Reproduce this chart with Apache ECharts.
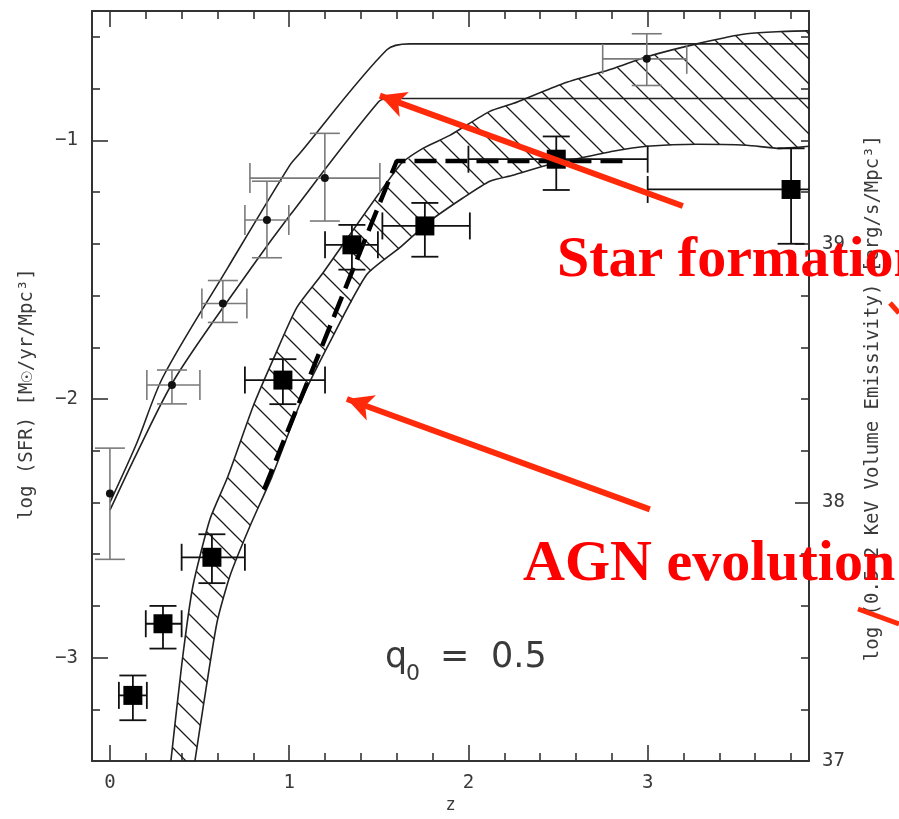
<!DOCTYPE html>
<html>
<head>
<meta charset="utf-8">
<script src="https://cdn.jsdelivr.net/npm/echarts@6/dist/echarts.min.js"></script>
<style>
  html, body { margin: 0; padding: 0; background: #fff; }
  #chart { width: 899px; height: 819px; }
</style>
</head>
<body>
<div id="chart"></div>
<script>
// ---- star-formation history models: [z, log SFR] ----
const sfUpper = [[0, -2.40], [0.15, -2.17], [0.296, -1.915], [0.658, -1.492], [1.004, -1.096],
  [1.06, -1.05], [1.545, -0.65], [1.673, -0.627], [3.9, -0.627]];
const sfLower = [[0, -2.43], [0.15, -2.21], [0.368, -1.915], [0.79, -1.492], [1.004, -1.29],
  [1.50, -0.85], [1.56, -0.838], [3.9, -0.838]];

// ---- AGN emissivity evolution band: edges of the allowed region ----
const agnBandUpper = [[0.34, -3.40], [0.402, -3.019], [0.463, -2.723], [0.558, -2.465], [0.658, -2.30],
  [0.798, -2.03], [0.909, -1.85], [1.043, -1.646], [1.182, -1.519], [1.617, -1.096], [1.746, -1.031],
  [1.896, -0.981], [2.119, -0.888], [2.248, -0.858], [2.526, -0.781], [2.805, -0.723], [2.995, -0.677],
  [3.274, -0.627], [3.553, -0.588], [3.887, -0.577], [3.9, -0.577]];
const agnBandLower = [[0.474, -3.40], [0.519, -3.196], [0.597, -2.865], [0.669, -2.685], [0.781, -2.492],
  [0.904, -2.30], [1.071, -2.0], [1.227, -1.78], [1.433, -1.519], [1.617, -1.415], [1.785, -1.312],
  [1.969, -1.223], [2.119, -1.158], [2.248, -1.135], [2.437, -1.096], [2.621, -1.069], [2.805, -1.042],
  [2.995, -1.023], [3.274, -1.015], [3.553, -1.019], [3.737, -1.031], [3.9, -1.023]];

// ---- AGN evolution (pure luminosity evolution, dashed) ----
const agnDashed = [[0.86, -2.35], [1.60, -1.08], [2.87, -1.08]];

// ---- measurements: [z, value, zLow, zHigh, valueLow, valueHigh] ----
const sfrPoints = [
  [0, -2.365, 0, 0, -2.62, -2.19],
  [0.346, -1.946, 0.206, 0.502, -2.019, -1.888],
  [0.63, -1.631, 0.513, 0.764, -1.704, -1.542],
  [0.876, -1.308, 0.753, 0.998, -1.454, -1.158],
  [1.199, -1.146, 0.781, 1.506, -1.312, -0.973],
  [2.995, -0.685, 2.749, 3.218, -0.788, -0.588]
];
const agnPoints = [
  [0.128, -3.146, 0.05, 0.206, -3.242, -3.069],
  [0.296, -2.869, 0.2, 0.4, -2.965, -2.80],
  [0.569, -2.612, 0.40, 0.753, -2.712, -2.523],
  [0.965, -1.927, 0.753, 1.2, -2.02, -1.846],
  [1.35, -1.404, 1.2, 1.495, -1.50, -1.327],
  [1.757, -1.331, 1.52, 2.008, -1.45, -1.242],
  [2.49, -1.073, 2.0, 3.0, -1.192, -0.985],
  [3.80, -1.19, 3.0, 4.5, -1.40, -1.031]
];

// ---- tick positions ----
const zMajor = [0, 1, 2, 3];
const zMinor = [0.2, 0.4, 0.6, 0.8, 1.2, 1.4, 1.6, 1.8, 2.2, 2.4, 2.6, 2.8, 3.2, 3.4, 3.6, 3.8];
const sfrMajor = [-3, -2, -1];
const sfrMinor = [-3.2, -2.8, -2.6, -2.4, -2.2, -1.8, -1.6, -1.4, -1.2, -0.8, -0.6];
const emisMajor = [37, 38, 39];
const emisMinor = [37.2, 37.4, 37.6, 37.8, 38.2, 38.4, 38.6, 38.8, 39.2, 39.4, 39.6, 39.8];

const INK = '#222';
const LABEL = '#3a3a3a';
const MONO = '"DejaVu Sans Mono", monospace';

// diagonal hatching for the AGN band
const hatch = document.createElement('canvas');
hatch.width = 25; hatch.height = 25;
(function () {
  const g = hatch.getContext('2d');
  g.strokeStyle = '#1a1a1a';
  g.lineWidth = 1.3;
  g.beginPath();
  g.moveTo(-3, -3); g.lineTo(28, 28);
  g.moveTo(-3, 22); g.lineTo(3, 28);
  g.moveTo(22, -3); g.lineTo(28, 3);
  g.stroke();
})();

function errorBars(cap, color, width) {
  return function (params, api) {
    const z = api.value(0), v = api.value(1);
    const zlo = api.value(2), zhi = api.value(3), vlo = api.value(4), vhi = api.value(5);
    const c = api.coord([z, v]);
    const l = api.coord([zlo, v]), r = api.coord([zhi, v]);
    const b = api.coord([z, vlo]), t = api.coord([z, vhi]);
    const h = cap / 2;
    const st = () => ({ stroke: color, lineWidth: width, fill: null });
    const kids = [];
    if (zhi > zlo) {
      kids.push({ type: 'line', shape: { x1: l[0], y1: c[1], x2: r[0], y2: c[1] }, style: st() });
      kids.push({ type: 'line', shape: { x1: l[0], y1: c[1] - h, x2: l[0], y2: c[1] + h }, style: st() });
      kids.push({ type: 'line', shape: { x1: r[0], y1: c[1] - h, x2: r[0], y2: c[1] + h }, style: st() });
    }
    kids.push({ type: 'line', shape: { x1: c[0], y1: b[1], x2: c[0], y2: t[1] }, style: st() });
    kids.push({ type: 'line', shape: { x1: c[0] - h, y1: b[1], x2: c[0] + h, y2: b[1] }, style: st() });
    kids.push({ type: 'line', shape: { x1: c[0] - h, y1: t[1], x2: c[0] + h, y2: t[1] }, style: st() });
    return { type: 'group', children: kids };
  };
}

const minusFmt = v => String(v).replace('-', '\u2212');
const frameLine = { show: true, onZero: false, lineStyle: { color: '#333', width: 2 } };
const noLine = { show: false, onZero: false };

function zAxis(position, major) {
  return {
    type: 'value', min: -0.1, max: 3.9, position,
    axisLine: major ? frameLine : noLine,
    axisTick: { show: true, inside: true, length: major ? 16 : 8,
      customValues: major ? zMajor : zMinor, lineStyle: { color: '#333', width: 1.6 } },
    axisLabel: (major && position === 'bottom')
      ? { show: true, customValues: zMajor, margin: 12, color: LABEL, fontFamily: MONO, fontSize: 19 }
      : { show: false },
    splitLine: { show: false },
    name: (major && position === 'bottom') ? 'z' : '',
    nameLocation: 'middle', nameGap: 34,
    nameTextStyle: { color: LABEL, fontFamily: MONO, fontSize: 17 }
  };
}

function sfrAxis(major) {
  return {
    type: 'value', min: -3.4, max: -0.5, position: 'left',
    axisLine: major ? frameLine : noLine,
    axisTick: { show: true, inside: true, length: major ? 16 : 8,
      customValues: major ? sfrMajor : sfrMinor, lineStyle: { color: '#333', width: 1.6 } },
    axisLabel: major
      ? { show: true, customValues: sfrMajor, margin: 14, color: LABEL, fontFamily: MONO, fontSize: 19, formatter: minusFmt }
      : { show: false },
    splitLine: { show: false },
    name: major ? 'log (SFR) [M\u2609/yr/Mpc\u00B3]' : '',
    nameLocation: 'middle', nameRotate: 90, nameGap: 55,
    nameTextStyle: { color: LABEL, fontFamily: MONO, fontSize: 19, padding: [0, 16, 0, 0] }
  };
}

function emisAxis(major) {
  return {
    type: 'value', min: 37, max: 39.9, position: 'right',
    axisLine: major ? frameLine : noLine,
    axisTick: { show: true, inside: true, length: major ? 14 : 8,
      customValues: major ? emisMajor : emisMinor, lineStyle: { color: '#333', width: 1.6 } },
    axisLabel: major
      ? { show: true, customValues: emisMajor, margin: 13, color: LABEL, fontFamily: MONO, fontSize: 19 }
      : { show: false },
    splitLine: { show: false },
    name: major ? 'log (0.5-2 KeV Volume Emissivity) [erg/s/Mpc\u00B3]' : '',
    nameLocation: 'middle', nameRotate: 90, nameGap: 55,
    nameTextStyle: { color: LABEL, fontFamily: MONO, fontSize: 19, padding: [0, 24, 0, 0] }
  };
}

const curveStyle = { color: INK, width: 1.6 };

const option = {
  animation: false,
  backgroundColor: '#fff',
  grid: { left: 92, right: 90, top: 11, bottom: 52 },
  xAxis: [zAxis('bottom', true), zAxis('bottom', false), zAxis('top', true), zAxis('top', false)],
  yAxis: [sfrAxis(true), sfrAxis(false), emisAxis(true), emisAxis(false)],
  series: [
    {
      name: 'AGN band', type: 'custom', clip: true, silent: true, z: 1,
      data: [[1, -2]],
      renderItem: function (params, api) {
        const pts = agnBandUpper.map(p => api.coord(p))
          .concat(agnBandLower.slice().reverse().map(p => api.coord(p)));
        return { type: 'polygon', shape: { points: pts },
          style: { fill: { image: hatch, repeat: 'repeat' }, stroke: null } };
      }
    },
    { name: 'AGN band upper', type: 'line', data: agnBandUpper, symbol: 'none', smooth: 0.2,
      lineStyle: curveStyle, clip: true, z: 2 },
    { name: 'AGN band lower', type: 'line', data: agnBandLower, symbol: 'none', smooth: 0.2,
      lineStyle: curveStyle, clip: true, z: 2 },
    {
      name: 'SF upper', type: 'line', data: sfUpper, symbol: 'none', smooth: 0.3, lineStyle: curveStyle, z: 2,
      markLine: {
        silent: true, symbol: ['none', 'arrow'], symbolSize: [20, 26],
        label: { show: false },
        lineStyle: { color: '#ff2a0a', width: 6, type: 'solid' },
        data: [
          [{ coord: [3.196, -1.254] }, { coord: [1.506, -0.827] }],
          [{ coord: [3.012, -2.427] }, { coord: [1.322, -2.0] }]
        ],
        z: 20
      }
    },
    { name: 'SF lower', type: 'line', data: sfLower, symbol: 'none', smooth: 0.3, lineStyle: curveStyle, z: 2 },
    { name: 'AGN PLE', type: 'line', data: agnDashed, symbol: 'none',
      lineStyle: { color: '#000', width: 4.5, type: [22, 9] }, z: 3 },
    { name: 'SFR errors', type: 'custom', clip: true, z: 4, data: sfrPoints,
      encode: { x: 0, y: 1 }, renderItem: errorBars(30, '#7a7a7a', 1.6) },
    { name: 'AGN errors', type: 'custom', clip: true, z: 4, data: agnPoints,
      encode: { x: 0, y: 1 }, renderItem: errorBars(27, '#111', 1.8) },
    { name: 'SFR', type: 'scatter', data: sfrPoints.map(p => [p[0], p[1]]), symbol: 'circle',
      symbolSize: 8, itemStyle: { color: '#111', opacity: 1 }, z: 5 },
    { name: 'AGN', type: 'scatter', data: agnPoints.map(p => [p[0], p[1]]), symbol: 'rect',
      symbolSize: 19, itemStyle: { color: '#000', opacity: 1 }, z: 5 }
  ],
  graphic: [
    { type: 'text', x: 385, y: 658, z: 50,
      style: { text: 'q', font: '35px "DejaVu Sans"', fill: '#3a3a3a', verticalAlign: 'middle' } },
    { type: 'text', x: 406, y: 674, z: 50,
      style: { text: '0', font: '22px "DejaVu Sans"', fill: '#3a3a3a', verticalAlign: 'middle' } },
    { type: 'text', x: 440, y: 658, z: 50,
      style: { text: '=', font: '35px "DejaVu Sans"', fill: '#3a3a3a', verticalAlign: 'middle' } },
    { type: 'text', x: 491, y: 658, z: 50,
      style: { text: '0.5', font: '35px "DejaVu Sans"', fill: '#3a3a3a', verticalAlign: 'middle' } },
    { type: 'line', z: 60, shape: { x1: 890, y1: 303, x2: 899, y2: 313 },
      style: { stroke: '#ff2a0a', lineWidth: 5 } },
    { type: 'line', z: 60, shape: { x1: 858, y1: 609, x2: 899, y2: 624 },
      style: { stroke: '#ff2a0a', lineWidth: 5 } },
    { type: 'text', x: 557, y: 261, z: 100,
      style: { text: 'Star formation', font: 'bold 58px "Liberation Serif"', fill: '#ff0000', verticalAlign: 'middle' } },
    { type: 'text', x: 523, y: 565, z: 100,
      style: { text: 'AGN evolution', font: 'bold 58px "Liberation Serif"', fill: '#ff0000', verticalAlign: 'middle' } }
  ]
};

const chart = echarts.init(document.getElementById('chart'), null, { renderer: 'canvas' });
chart.setOption(option);
</script>
</body>
</html>
